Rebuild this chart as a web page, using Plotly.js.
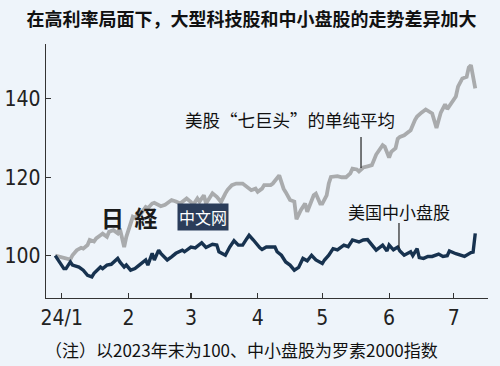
<!DOCTYPE html>
<html>
<head>
<meta charset="utf-8">
<script src="https://cdn.plot.ly/plotly-3.0.1.min.js"></script>
<style>
html,body{margin:0;padding:0;background:#eef4fa;}
#chart{width:500px;height:366px;}
</style>
</head>
<body>
<div id="chart"></div>
<script>
// ---- data ----
const titleText = "在高利率局面下，大型科技股和中小盘股的走势差异加大";
const noteText = "（注）以2023年末为100、中小盘股为罗素2000指数";
const bigTechLabel = "美股“七巨头”的单纯平均";
const smallCapLabel = "美国中小盘股";

const tickDates = ["2024-01-01","2024-02-01","2024-03-01","2024-04-01","2024-05-01","2024-06-01","2024-07-01"];
const tickLabels = ["24/1","2","3","4","5","6","7"];
const yTicks = [100, 120, 140];

const bigTechDates = [
"2023-12-29","2024-01-02","2024-01-03","2024-01-05","2024-01-06","2024-01-08","2024-01-10","2024-01-11","2024-01-13","2024-01-14",
"2024-01-16","2024-01-17","2024-01-19","2024-01-20","2024-01-22","2024-01-23","2024-01-25","2024-01-27","2024-01-28","2024-01-30",
"2024-01-31","2024-02-02","2024-02-03","2024-02-04","2024-02-06","2024-02-07","2024-02-09","2024-02-10","2024-02-12","2024-02-13",
"2024-02-16","2024-02-18","2024-02-21","2024-02-23","2024-02-25","2024-02-28","2024-03-01","2024-03-02","2024-03-04","2024-03-05",
"2024-03-07","2024-03-08","2024-03-11","2024-03-13","2024-03-15","2024-03-17","2024-03-18","2024-03-20","2024-03-22","2024-03-25",
"2024-03-27","2024-03-29","2024-03-31","2024-04-01","2024-04-03","2024-04-04","2024-04-07","2024-04-08","2024-04-11","2024-04-13",
"2024-04-14","2024-04-16","2024-04-18","2024-04-19","2024-04-21","2024-04-23","2024-04-24","2024-04-27","2024-04-28","2024-04-30",
"2024-05-01","2024-05-03","2024-05-04","2024-05-05","2024-05-08","2024-05-10","2024-05-12","2024-05-14","2024-05-15","2024-05-17",
"2024-05-18","2024-05-20","2024-05-22","2024-05-24","2024-05-26","2024-05-29","2024-05-30","2024-06-01","2024-06-02","2024-06-04",
"2024-06-05","2024-06-06","2024-06-08","2024-06-09","2024-06-11","2024-06-13","2024-06-14","2024-06-16","2024-06-18","2024-06-21",
"2024-06-23","2024-06-25","2024-06-27","2024-06-28","2024-07-01","2024-07-02","2024-07-03","2024-07-04","2024-07-05","2024-07-07",
"2024-07-08","2024-07-09","2024-07-11"];
const bigTechValues = [
100.0,99.5,99.3,99.0,100.1,101.4,102.0,101.8,102.7,104.0,
103.6,104.4,105.2,105.6,104.8,106.1,106.5,105.7,106.9,102.2,
104.8,108.2,109.9,109.6,111.2,110.9,112.4,112.1,113.3,113.5,
112.6,113.0,114.2,113.8,113.3,114.6,113.7,112.9,114.6,113.8,
115.4,113.3,115.9,115.0,113.7,115.9,116.8,118.0,118.4,118.4,
117.5,116.7,117.1,116.3,117.1,118.0,118.0,118.4,120.5,117.1,
116.2,114.2,113.8,109.3,111.6,113.3,111.2,115.4,115.8,113.3,
113.3,115.4,118.4,120.1,120.3,120.0,120.0,121.0,122.2,122.0,
121.5,122.5,122.8,123.1,125.8,128.2,127.8,125.0,126.5,127.4,
129.8,130.3,130.7,131.2,132.0,134.6,135.5,136.5,137.3,136.3,
132.6,136.5,138.6,137.4,140.1,140.6,143.1,144.0,145.2,145.6,
148.0,148.6,142.7];

const smallCapDates = [
"2023-12-29","2024-01-02","2024-01-03","2024-01-05","2024-01-06","2024-01-09","2024-01-11","2024-01-13","2024-01-15","2024-01-16",
"2024-01-19","2024-01-20","2024-01-22","2024-01-24","2024-01-27","2024-01-28","2024-01-30","2024-01-31","2024-02-02","2024-02-04",
"2024-02-06","2024-02-09","2024-02-10","2024-02-12","2024-02-13","2024-02-15","2024-02-16","2024-02-19","2024-02-21","2024-02-23",
"2024-02-26","2024-02-27","2024-03-01","2024-03-03","2024-03-06","2024-03-08","2024-03-11","2024-03-13","2024-03-14","2024-03-17",
"2024-03-19","2024-03-21","2024-03-23","2024-03-25","2024-03-27","2024-03-28","2024-03-30","2024-04-01","2024-04-02","2024-04-03",
"2024-04-05","2024-04-07","2024-04-09","2024-04-10","2024-04-12","2024-04-14","2024-04-16","2024-04-18","2024-04-20","2024-04-22",
"2024-04-24","2024-04-26","2024-04-28","2024-05-01","2024-05-02","2024-05-04","2024-05-06","2024-05-08","2024-05-11","2024-05-13",
"2024-05-15","2024-05-18","2024-05-20","2024-05-22","2024-05-24","2024-05-26","2024-05-29","2024-05-31","2024-06-01","2024-06-03",
"2024-06-05","2024-06-06","2024-06-08","2024-06-11","2024-06-12","2024-06-14","2024-06-15","2024-06-17","2024-06-19","2024-06-21",
"2024-06-24","2024-06-26","2024-06-28","2024-06-29","2024-07-02","2024-07-04","2024-07-06","2024-07-09","2024-07-10","2024-07-11"];
const smallCapValues = [
100.0,96.7,96.7,98.4,97.6,97.1,96.3,95.0,94.6,95.5,
97.1,96.7,97.6,97.8,99.3,98.4,97.1,97.6,96.3,96.7,
97.6,98.9,97.6,100.6,98.9,101.4,100.6,98.9,99.7,100.6,
101.4,101.0,102.2,102.0,103.3,102.1,102.9,102.7,101.0,100.1,
102.2,103.8,102.7,102.7,104.4,105.2,104.0,102.5,102.0,101.6,
102.2,102.2,102.2,101.0,100.1,98.4,97.6,96.3,97.0,99.3,
98.7,100.1,98.9,98.0,98.9,100.1,101.8,101.5,102.7,102.3,
104.0,103.5,104.0,104.1,102.7,101.4,102.7,101.2,102.7,101.5,
102.2,101.2,100.1,101.0,100.0,101.8,99.5,99.3,99.8,99.8,
100.4,99.8,100.0,101.2,100.5,100.1,99.8,100.8,100.9,105.7];

// ---- styles ----
const numFont = "'Liberation Sans Narrow','DejaVu Sans Condensed','Roboto',sans-serif";
const cjkFont = "'Noto Sans CJK SC','Noto Sans',sans-serif";
const gray = "#a9abad";
const navy = "#17324f";
const bg = "#eef4fa";

const traces = [
  {x: bigTechDates, y: bigTechValues, type: "scatter", mode: "lines",
   line: {color: gray, width: 3.8}, hoverinfo: "skip"},
  {x: smallCapDates, y: smallCapValues, type: "scatter", mode: "lines",
   line: {color: navy, width: 3.4}, hoverinfo: "skip"}
];

const layout = {
  width: 500, height: 366,
  paper_bgcolor: bg, plot_bgcolor: bg,
  margin: {l: 46, r: 12, t: 44, b: 68},
  showlegend: false,
  title: {text: "<b>" + titleText + "</b>", font: {family: cjkFont, size: 18, color: "#111"},
          xref: "container", x: 0.503, xanchor: "center", yref: "container", y: 0.945, yanchor: "middle"},
  xaxis: {type: "date", range: ["2023-12-24 17:00", "2024-07-16 22:00"],
          tickvals: tickDates, ticktext: tickLabels, tickmode: "array",
          showgrid: false, zeroline: false, showline: true, linecolor: "#333", linewidth: 1.3,
          ticks: "inside", ticklen: 5, tickcolor: "#333", tickwidth: 1.2,
          tickfont: {family: numFont, size: 21, color: "#222"}, fixedrange: true},
  yaxis: {range: [89.2, 154], tickvals: yTicks, tickmode: "array",
          showgrid: false, zeroline: false, showline: true, linecolor: "#333", linewidth: 1.3,
          ticks: "inside", ticklen: 5, tickcolor: "#333", tickwidth: 1.2,
          tickfont: {family: numFont, size: 21, color: "#222"}, fixedrange: true},
  annotations: [
    {text: bigTechLabel, xref: "paper", yref: "paper", x: 0.552, y: 0.701,
     xanchor: "center", yanchor: "middle", showarrow: false,
     font: {family: cjkFont, size: 17.5, color: "#111"}},
    {text: smallCapLabel, xref: "paper", yref: "paper", x: 0.7986, y: 0.3386,
     xanchor: "center", yanchor: "middle", showarrow: false,
     font: {family: cjkFont, size: 17, color: "#111"}},
    {text: "<b>日  経</b>", xref: "paper", yref: "paper", x: 0.188, y: 0.319,
     xanchor: "center", yanchor: "middle", showarrow: false,
     font: {family: "'Noto Sans CJK JP',serif", size: 23, color: "#1a1a1a"}},
    {text: "中文网", xref: "paper", yref: "paper", x: 0.3563, y: 0.319,
     xanchor: "center", yanchor: "middle", showarrow: false, bgcolor: "#2b3d5a",
     borderpad: 1, font: {family: cjkFont, size: 16, color: "#ffffff"}},
    {text: noteText, xref: "paper", yref: "paper", x: -0.0068, y: -0.2008,
     xanchor: "left", yanchor: "middle", showarrow: false,
     font: {family: cjkFont, size: 17, color: "#111"}}
  ],
  shapes: [
    {type: "line", xref: "paper", yref: "paper", x0: 0.7127, x1: 0.7127, y0: 0.512, y1: 0.634,
     line: {color: "#222", width: 1.2}},
    {type: "line", xref: "paper", yref: "paper", x0: 0.7986, x1: 0.7986, y0: 0.197, y1: 0.2953,
     line: {color: "#222", width: 1.2}}
  ]
};

Plotly.newPlot("chart", traces, layout, {staticPlot: true, displayModeBar: false});
</script>
</body>
</html>
